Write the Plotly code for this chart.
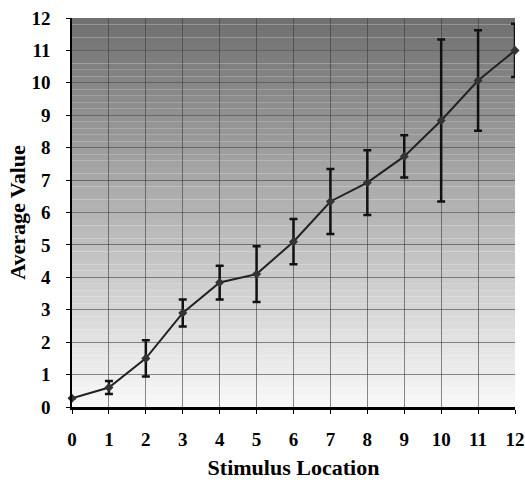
import plotly.graph_objects as go

stimulus_location = [0, 1, 2, 3, 4, 5, 6, 7, 8, 9, 10, 11, 12]
average_value = [0.27, 0.60, 1.50, 2.90, 3.84, 4.10, 5.10, 6.34, 6.92, 7.73, 8.84, 10.07, 11.0]
error = [0.0, 0.20, 0.56, 0.42, 0.52, 0.86, 0.70, 1.0, 1.0, 0.65, 2.5, 1.55, 0.82]
tick_values = list(range(13))

fig = go.Figure()
fig.add_trace(go.Scatter(
    x=stimulus_location, y=average_value,
    mode="lines+markers",
    line=dict(color="#222222", width=2),
    marker=dict(symbol="diamond", size=7, color="#333333"),
    error_y=dict(type="data", array=error, visible=True, color="#111111", thickness=2.5, width=4),
    showlegend=False,
    cliponaxis=False,
))

# vertical gradient background (dark top -> light bottom)
n = 60
shapes = []
top_c = (112, 112, 112)
bot_c = (248, 248, 248)
for i in range(n):
    t = i / (n - 1)
    c = tuple(int(round(top_c[k] + (bot_c[k] - top_c[k]) * t)) for k in range(3))
    shapes.append(dict(type="rect", xref="paper", yref="paper",
                       x0=0, x1=1, y0=1 - (i + 1) / n, y1=1 - i / n,
                       fillcolor="rgb(%d,%d,%d)" % c, line=dict(width=0), layer="below"))

font = dict(family="Liberation Serif, Times New Roman, serif", size=19, color="black")

fig.update_layout(
    width=525, height=484,
    margin=dict(l=72, r=10, t=18, b=77, autoexpand=False),
    paper_bgcolor="white",
    plot_bgcolor="rgba(0,0,0,0)",
    shapes=shapes,
    font=font,
    xaxis=dict(
        range=[0, 12], tickvals=tick_values, ticktext=[f"<b>{v}</b>" for v in tick_values],
        showgrid=True, gridcolor="rgba(60,60,60,0.6)", gridwidth=1,
        showline=True, linecolor="black", linewidth=2.5, mirror=False,
        ticks="outside", ticklen=4, tickcolor="black",
        zeroline=False, tickfont=dict(size=19), automargin=False,
        ticklabelstandoff=9,
        title=dict(text="<b>Stimulus Location</b>", font=dict(size=22), standoff=12),
    ),
    yaxis=dict(
        range=[0, 12], tickvals=tick_values, ticktext=[f"<b>{v}</b>" for v in tick_values],
        showgrid=True, gridcolor="rgba(60,60,60,0.6)", gridwidth=1,
        showline=True, linecolor="black", linewidth=1.5,
        ticks="outside", ticklen=4, tickcolor="black",
        zeroline=False, tickfont=dict(size=19), automargin=False,
        ticklabelstandoff=12,
        title=dict(text="<b>Average Value</b>", font=dict(size=22), standoff=0),
    ),
)

fig.write_html("out.html", config={"displayModeBar": False},
               post_script="document.body.style.margin='0';document.body.style.padding='0';")
